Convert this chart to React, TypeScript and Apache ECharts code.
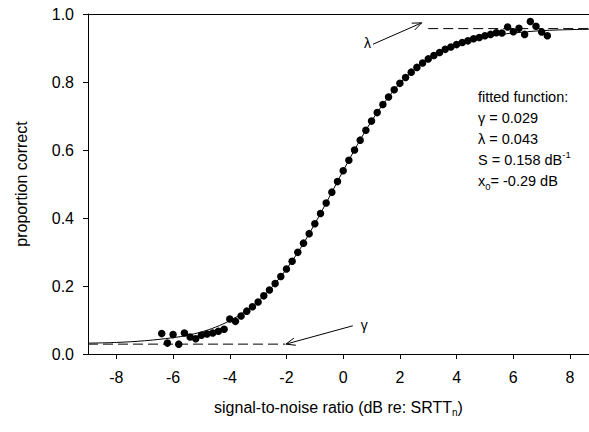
import React, { useEffect, useRef } from 'react';
import * as echarts from 'echarts';

const FONT = 'Liberation Sans, Arial, sans-serif';

const xTickValues = [-8, -6, -4, -2, 0, 2, 4, 6, 8];
const xMin = -9;
const xMax = 8.67;

const dotX = [
  -6.4, -6.2, -6.0, -5.8, -5.6, -5.4, -5.2, -5.0, -4.8, -4.6, -4.4, -4.2, -4.0, -3.8, -3.6, -3.4, -3.2, -3.0,
  -2.8, -2.6, -2.4, -2.2, -2.0, -1.8, -1.6, -1.4, -1.2, -1.0, -0.8, -0.6, -0.4, -0.2, 0.0, 0.2, 0.4, 0.6,
  0.8, 1.0, 1.2, 1.4, 1.6, 1.8, 2.0, 2.2, 2.4, 2.6, 2.8, 3.0, 3.2, 3.4, 3.6, 3.8, 4.0, 4.2,
  4.4, 4.6, 4.8, 5.0, 5.2, 5.4, 5.6, 5.8, 6.0, 6.2, 6.4, 6.6, 6.8, 7.0, 7.2,
];
const dotY = [
  0.060, 0.032, 0.057, 0.029, 0.062, 0.050, 0.045, 0.055, 0.059, 0.062, 0.067, 0.073, 0.103, 0.096, 0.112, 0.126, 0.139, 0.153,
  0.171, 0.188, 0.207, 0.228, 0.250, 0.273, 0.299, 0.326, 0.354, 0.383, 0.413, 0.444, 0.476, 0.507, 0.539, 0.570, 0.600, 0.629,
  0.658, 0.685, 0.710, 0.734, 0.756, 0.777, 0.796, 0.813, 0.829, 0.843, 0.856, 0.868, 0.878, 0.887, 0.896, 0.903, 0.910, 0.916,
  0.921, 0.927, 0.931, 0.936, 0.940, 0.945, 0.944, 0.962, 0.948, 0.958, 0.940, 0.978, 0.964, 0.947, 0.936,
];

const curveX = [-9, -8, -7, -6, -5.5, -5, -4.5, -4, -3.5, -3, -2.5, -2, -1.5, -1, -0.5, 0, 0.5, 1, 1.5, 2, 2.5, 3, 3.5, 4, 4.5, 5, 5.5, 6, 7, 8, 8.67];
const curveY = [0.032, 0.034, 0.039, 0.048, 0.055, 0.065, 0.079, 0.098, 0.123, 0.155, 0.198, 0.250, 0.312, 0.383, 0.460, 0.539, 0.615, 0.685, 0.745, 0.796, 0.836, 0.868, 0.892, 0.910, 0.923, 0.932, 0.939, 0.944, 0.951, 0.954, 0.955];

const gammaLineX = [-9, -2.05];
const gammaLineY = [0.029, 0.029];
const lambdaLineX = [3.0, 8.67];
const lambdaLineY = [0.957, 0.957];

// arrows: tail x, tail y, tip x, tip y
const arrowData = [
  [0.34, 0.083, -2.02, 0.029],
  [1.05, 0.911, 2.77, 0.974],
];
const arrowLabels = ['γ', 'λ'];

const fitText = [
  'fitted function:',
  'γ = 0.029',
  'λ = 0.043',
  'S = 0.158 dB{sup|-1}',
  'x{sub|0}= -0.29 dB',
];

export default function App() {
  const ref = useRef<HTMLDivElement>(null);
  useEffect(() => {
    if (!ref.current) return;
    const chart = echarts.init(ref.current, null, { renderer: 'svg' });
    const option: any = {
      animation: false,
      backgroundColor: '#fff',
      grid: { left: 88, right: 0, top: 14, bottom: 78, containLabel: false },
      xAxis: [
        {
          type: 'value',
          min: xMin,
          max: xMax,
          position: 'bottom',
          splitLine: { show: false },
          axisLine: { show: true, onZero: false, lineStyle: { color: '#000', width: 1 } },
          axisTick: { show: true, inside: false, length: 5, lineStyle: { color: '#000' }, customValues: xTickValues },
          axisLabel: { show: true, margin: 15, fontSize: 16, fontFamily: FONT, color: '#000', customValues: xTickValues },
          name: '{a|signal-to-noise ratio (dB re: SRTT}{s|n}{a|)}',
          nameLocation: 'middle',
          nameGap: 43,
          nameTextStyle: {
            color: '#000',
            fontFamily: FONT,
            fontSize: 16,
            rich: {
              a: { fontSize: 16, fontFamily: FONT, color: '#000', lineHeight: 20 },
              s: { fontSize: 10, fontFamily: FONT, color: '#000', lineHeight: 12, verticalAlign: 'bottom' },
            },
          },
        },
        {
          type: 'value',
          min: xMin,
          max: xMax,
          position: 'top',
          splitLine: { show: false },
          axisLine: { show: true, onZero: false, lineStyle: { color: '#000', width: 1 } },
          axisTick: { show: false },
          axisLabel: { show: false },
        },
      ],
      yAxis: {
        type: 'value',
        min: 0,
        max: 1,
        interval: 0.2,
        splitLine: { show: false },
        axisLine: { show: true, onZero: false, lineStyle: { color: '#000', width: 1 } },
        axisTick: { show: true, inside: false, length: 5, lineStyle: { color: '#000' } },
        axisLabel: {
          margin: 14,
          fontSize: 16,
          fontFamily: FONT,
          color: '#000',
          formatter: (v: number) => v.toFixed(1),
        },
        name: 'proportion correct',
        nameLocation: 'middle',
        nameGap: 59,
        nameTextStyle: { color: '#000', fontFamily: FONT, fontSize: 16 },
      },
      series: [
        {
          type: 'line',
          data: gammaLineX.map((x, i) => [x, gammaLineY[i]]),
          showSymbol: false,
          symbol: 'none',
          lineStyle: { color: '#000', width: 1, type: [10, 5] },
          z: 2,
        },
        {
          type: 'line',
          data: lambdaLineX.map((x, i) => [x, lambdaLineY[i]]),
          showSymbol: false,
          symbol: 'none',
          lineStyle: { color: '#000', width: 1, type: [10, 5] },
          z: 2,
        },
        {
          type: 'line',
          data: curveX.map((x, i) => [x, curveY[i]]),
          showSymbol: false,
          symbol: 'none',
          smooth: 0.4,
          lineStyle: { color: '#000', width: 1 },
          z: 3,
        },
        {
          type: 'scatter',
          data: dotX.map((x, i) => [x, dotY[i]]),
          symbol: 'circle',
          symbolSize: 7.5,
          itemStyle: { color: '#000', opacity: 1 },
          z: 4,
        },
        {
          type: 'custom',
          data: arrowData,
          encode: { x: [0, 2], y: [1, 3] },
          clip: false,
          z: 5,
          renderItem: (params: any, api: any) => {
            const p1 = api.coord([api.value(0), api.value(1)]);
            const p2 = api.coord([api.value(2), api.value(3)]);
            const ang = Math.atan2(p2[1] - p1[1], p2[0] - p1[0]);
            const L = 10;
            const a = 0.38;
            const h1 = [p2[0] - L * Math.cos(ang - a), p2[1] - L * Math.sin(ang - a)];
            const h2 = [p2[0] - L * Math.cos(ang + a), p2[1] - L * Math.sin(ang + a)];
            const label = arrowLabels[params.dataIndex];
            const leftSide = p2[0] > p1[0];
            return {
              type: 'group',
              children: [
                { type: 'line', shape: { x1: p1[0], y1: p1[1], x2: p2[0], y2: p2[1] }, style: { stroke: '#000', lineWidth: 1 } },
                { type: 'polyline', shape: { points: [h1, p2, h2] }, style: { stroke: '#000', fill: 'none', lineWidth: 1 } },
                {
                  type: 'text',
                  x: leftSide ? p1[0] - 2 : p1[0] + 8,
                  y: leftSide ? p1[1] - 1 : p1[1] - 1,
                  style: {
                    text: label,
                    fontSize: 14,
                    fontFamily: FONT,
                    fill: '#000',
                    align: leftSide ? 'right' : 'left',
                    verticalAlign: 'middle',
                  },
                },
              ],
            };
          },
        },
      ],
      graphic: [
        {
          type: 'text',
          left: 478,
          top: 86,
          style: {
            text: fitText.join('\n'),
            fontSize: 14.5,
            fontFamily: FONT,
            fill: '#000',
            lineHeight: 21,
            rich: {
              sup: { fontSize: 9.5, fontFamily: FONT, fill: '#000', lineHeight: 12, verticalAlign: 'top' },
              sub: { fontSize: 9.5, fontFamily: FONT, fill: '#000', lineHeight: 12, verticalAlign: 'bottom' },
            },
          },
        },
      ],
    };
    chart.setOption(option);
    return () => chart.dispose();
  }, []);
  return <div ref={ref} style={{ position: 'fixed', left: 0, top: 0, width: 589, height: 432 }} />;
}
